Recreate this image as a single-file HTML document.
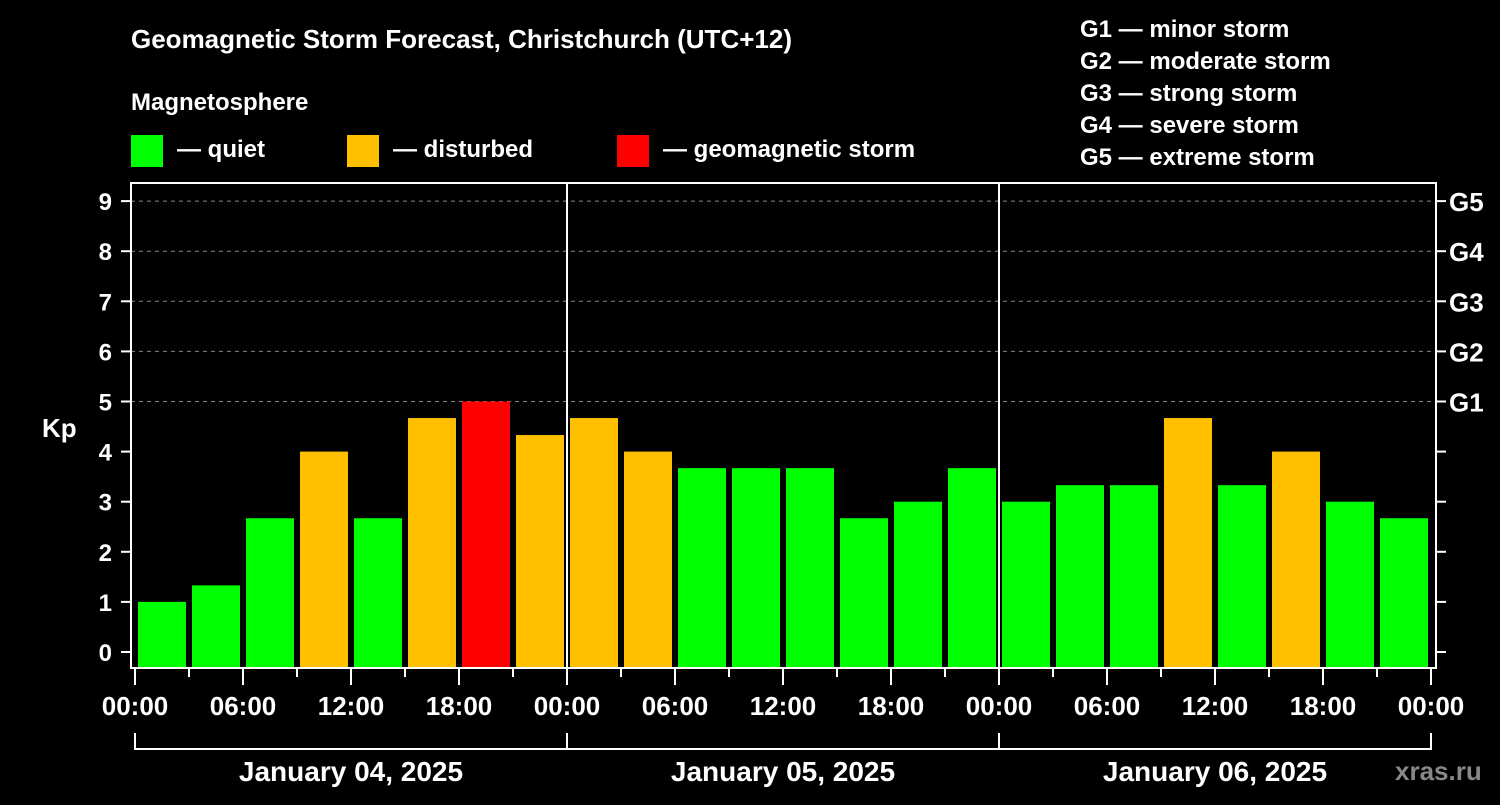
<!DOCTYPE html>
<html><head><meta charset="utf-8"><style>
body{margin:0;background:#000;}
svg text{font-family:"Liberation Sans",sans-serif;font-weight:bold;fill:#fff;}
</style></head><body>
<svg id="chart" width="1500" height="800" xmlns="http://www.w3.org/2000/svg">
<rect width="1500" height="800" fill="#000"/>
<text x="131" y="48" font-size="26">Geomagnetic Storm Forecast, Christchurch (UTC+12)</text>
<text x="131" y="110" font-size="24">Magnetosphere</text>
<rect x="131" y="135" width="32" height="32" fill="#00ff00"/>
<text x="177" y="157" font-size="24">— quiet</text>
<rect x="347" y="135" width="32" height="32" fill="#ffc000"/>
<text x="393" y="157" font-size="24">— disturbed</text>
<rect x="617" y="135" width="32" height="32" fill="#ff0000"/>
<text x="663" y="157" font-size="24">— geomagnetic storm</text>
<g font-size="24">
<text x="1080" y="37">G1 — minor storm</text>
<text x="1080" y="69">G2 — moderate storm</text>
<text x="1080" y="101">G3 — strong storm</text>
<text x="1080" y="133">G4 — severe storm</text>
<text x="1080" y="165">G5 — extreme storm</text>
</g>
<g id="grid"></g><g id="bars"></g><g id="axes"></g>
<text x="42" y="437" font-size="26">Kp</text>
<text x="1395" y="780" font-size="26" style="fill:#888">xras.ru</text>
</svg>
<script>
const kpValues=[1,1.33,2.67,4,2.67,4.67,5,4.33, 4.67,4,3.67,3.67,3.67,2.67,3,3.67, 3,3.33,3.33,4.67,3.33,4,3,2.67];
const yTicks=[0,1,2,3,4,5,6,7,8,9];
const gLabels=["G1","G2","G3","G4","G5"];
const xTickLabels=["00:00","06:00","12:00","18:00","00:00","06:00","12:00","18:00","00:00","06:00","12:00","18:00","00:00"];
const dayLabels=["January 04, 2025","January 05, 2025","January 06, 2025"];
const NS="http://www.w3.org/2000/svg";
const x0=135,slot=54,plotL=131,plotR=1436,plotT=183,plotB=668;
const yS=v=>652-v*50.1;
const xS=i=>x0+i*slot;
function mk(p,tag,a){const e=document.createElementNS(NS,tag);for(const k in a)e.setAttribute(k,a[k]);p.appendChild(e);return e;}
const grid=document.getElementById('grid'),bars=document.getElementById('bars'),axes=document.getElementById('axes');
yTicks.forEach(v=>{
 if(v>=5){const l=mk(grid,'line',{x1:plotL,x2:plotR,y1:yS(v),y2:yS(v),stroke:'#888','stroke-dasharray':'4,4','stroke-width':1});
 
 }
 const t=mk(axes,'text',{x:112,y:yS(v)+9,'font-size':24,'text-anchor':'end'});t.textContent=v;
 
 
 mk(axes,'line',{x1:121,x2:plotL,y1:yS(v),y2:yS(v),stroke:'#fff','stroke-width':2});
 mk(axes,'line',{x1:plotR,x2:plotR+10,y1:yS(v),y2:yS(v),stroke:'#fff','stroke-width':2});
 if(v>=5){const g=mk(axes,'text',{x:1449,y:yS(v)+10,'font-size':26});g.textContent=gLabels[v-5];
 
 }
});
kpValues.forEach((v,i)=>{
 const c=v>=5?'#ff0000':(v>=4?'#ffc000':'#00ff00');
 const r=mk(bars,'rect',{x:xS(i)+3,y:yS(v),width:48,height:667-yS(v),fill:c});
 
 
});
mk(axes,'rect',{x:plotL,y:plotT,width:plotR-plotL,height:plotB-plotT,fill:'none',stroke:'#fff','stroke-width':2});
[1,2].forEach(d=>mk(axes,'line',{x1:xS(d*8),x2:xS(d*8),y1:plotT,y2:plotB,stroke:'#fff','stroke-width':2}));
for(let i=0;i<=24;i++){mk(axes,'line',{x1:xS(i),x2:xS(i),y1:plotB,y2:plotB+(i%2?9:17),stroke:'#fff','stroke-width':2});}
xTickLabels.forEach((s,i)=>{const t=mk(axes,'text',{x:xS(i*2),y:715,'font-size':26,'text-anchor':'middle'});t.textContent=s;
 
 });
mk(axes,'line',{x1:xS(0),x2:xS(24),y1:749,y2:749,stroke:'#fff','stroke-width':2});
for(let d=0;d<=3;d++)mk(axes,'line',{x1:xS(d*8),x2:xS(d*8),y1:733,y2:750,stroke:'#fff','stroke-width':2});
dayLabels.forEach((s,d)=>{const t=mk(axes,'text',{x:xS(d*8+4),y:781,'font-size':28,'text-anchor':'middle'});t.textContent=s;
 
 });
</script>
</body></html>
